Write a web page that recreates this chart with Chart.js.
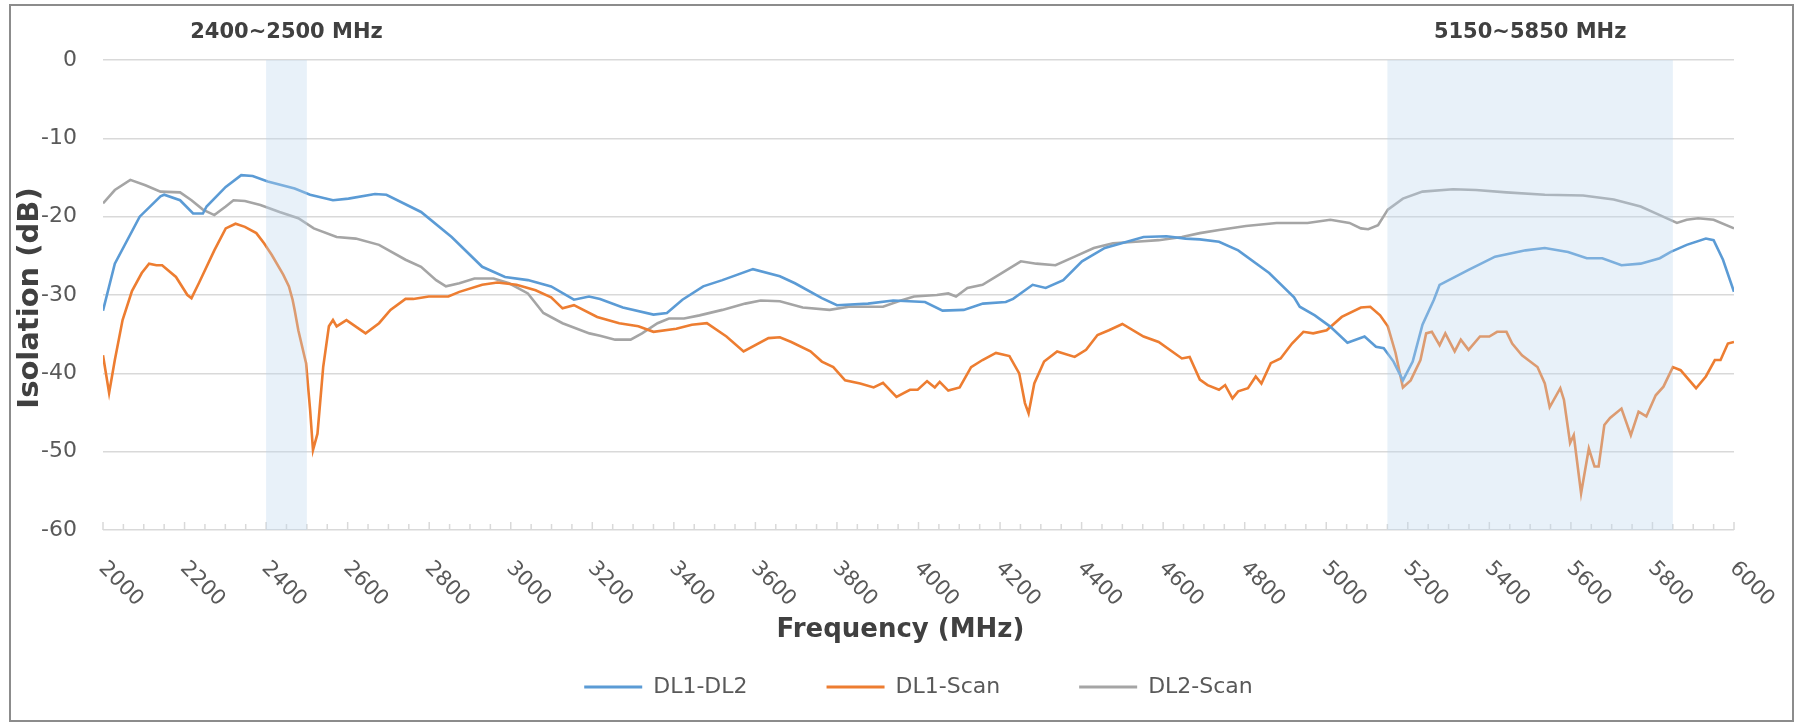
<!DOCTYPE html>
<html><head><meta charset="utf-8">
<script src="https://cdn.jsdelivr.net/npm/chart.js@4.4.1/dist/chart.umd.min.js"></script>
<style>html,body{margin:0;padding:0;background:#fff;}canvas{display:block;}</style>
</head><body>
<canvas id="c" width="1801" height="722"></canvas>
<script>
// ---- data ----
const seriesNames = ['DL1-DL2', 'DL1-Scan', 'DL2-Scan'];

const dl1Dl2Freq = [2000,2029,2090,2141,2150,2189,2221,2245,2254,2301,2339,2367,2404,2470,2508,2564,2602,2667,2695,2780,2855,2930,2986,3042,3099,3155,3192,3219,3275,3350,3383,3421,3472,3519,3594,3660,3697,3763,3800,3876,3938,4016,4059,4111,4158,4214,4232,4280,4312,4355,4401,4457,4552,4608,4655,4690,4737,4784,4860,4921,4935,4972,5009,5052,5094,5122,5141,5165,5188,5212,5236,5264,5278,5349,5414,5489,5536,5593,5639,5677,5724,5771,5818,5845,5884,5931,5950,5973,6000];
const dl1Dl2Db = [-32,-26,-20,-17.4,-17.2,-17.9,-19.6,-19.6,-18.7,-16.2,-14.7,-14.8,-15.5,-16.4,-17.2,-17.9,-17.7,-17.1,-17.2,-19.4,-22.6,-26.4,-27.7,-28.1,-28.9,-30.6,-30.2,-30.5,-31.6,-32.5,-32.3,-30.6,-28.9,-28.1,-26.7,-27.6,-28.5,-30.4,-31.3,-31.1,-30.7,-30.9,-32.0,-31.9,-31.1,-30.9,-30.5,-28.7,-29.1,-28.1,-25.7,-24,-22.6,-22.5,-22.8,-22.9,-23.2,-24.3,-27.2,-30.3,-31.5,-32.6,-34,-36.1,-35.3,-36.6,-36.8,-38.5,-40.9,-38.5,-33.8,-30.6,-28.7,-26.8,-25.1,-24.3,-24,-24.5,-25.3,-25.3,-26.2,-26,-25.3,-24.5,-23.6,-22.8,-23,-25.5,-29.6];

const dl1ScanFreq = [2000,2015,2029,2048,2071,2095,2113,2131,2145,2179,2207,2217,2235,2273,2301,2325,2348,2376,2395,2414,2442,2456,2465,2470,2479,2498,2508,2515,2526,2540,2554,2564,2573,2597,2644,2677,2705,2742,2761,2799,2847,2874,2930,2967,3014,3061,3099,3127,3155,3212,3266,3313,3350,3406,3444,3481,3529,3571,3632,3660,3688,3735,3763,3791,3820,3857,3890,3913,3946,3979,3998,4021,4040,4052,4073,4101,4129,4157,4190,4223,4247,4261,4270,4284,4308,4340,4383,4411,4439,4467,4500,4552,4589,4646,4665,4690,4709,4737,4752,4770,4784,4808,4827,4841,4864,4888,4916,4944,4968,5001,5038,5085,5108,5132,5151,5170,5188,5207,5231,5245,5259,5278,5292,5315,5330,5349,5377,5400,5419,5442,5456,5480,5518,5536,5548,5574,5583,5598,5607,5625,5644,5658,5668,5682,5696,5724,5747,5766,5785,5808,5827,5850,5869,5907,5931,5953,5967,5985,6000];
const dl1ScanDb = [-37.7,-42.5,-38.3,-33.2,-29.5,-27.2,-26,-26.2,-26.2,-27.7,-30,-30.4,-28.5,-24.3,-21.5,-20.9,-21.3,-22.1,-23.4,-24.9,-27.4,-28.9,-30.6,-31.9,-34.5,-38.7,-44.7,-49.8,-47.7,-39.2,-34,-33.2,-34,-33.2,-34.9,-33.6,-31.9,-30.5,-30.5,-30.2,-30.2,-29.6,-28.7,-28.4,-28.7,-29.4,-30.3,-31.7,-31.3,-32.8,-33.6,-34,-34.7,-34.3,-33.8,-33.6,-35.3,-37.2,-35.5,-35.4,-36,-37.2,-38.5,-39.2,-40.9,-41.3,-41.8,-41.2,-43,-42.1,-42.1,-41,-41.8,-41.1,-42.2,-41.8,-39.2,-38.3,-37.4,-37.8,-40,-43.8,-45.1,-41.3,-38.5,-37.2,-37.9,-37,-35.1,-34.5,-33.7,-35.3,-36,-38.1,-37.9,-40.8,-41.5,-42.1,-41.5,-43.2,-42.3,-41.9,-40.4,-41.3,-38.7,-38.1,-36.2,-34.7,-34.9,-34.5,-32.8,-31.6,-31.5,-32.6,-34,-37.4,-41.8,-40.9,-38.3,-34.9,-34.7,-36.4,-34.9,-37.2,-35.7,-37,-35.3,-35.3,-34.7,-34.7,-36.2,-37.7,-39.2,-41.3,-44.3,-41.9,-43.4,-48.9,-47.9,-55.3,-49.6,-51.9,-51.9,-46.6,-45.7,-44.5,-47.9,-44.9,-45.5,-42.8,-41.7,-39.2,-39.6,-41.9,-40.4,-38.3,-38.3,-36.2,-36];

const dl2ScanFreq = [2000,2029,2067,2104,2141,2189,2217,2245,2273,2301,2320,2348,2386,2433,2479,2517,2573,2620,2677,2742,2780,2817,2841,2874,2911,2958,2996,3042,3080,3127,3193,3219,3256,3294,3322,3360,3388,3425,3463,3519,3575,3613,3660,3716,3782,3829,3913,3951,3989,4045,4073,4092,4120,4157,4204,4251,4289,4336,4383,4430,4477,4533,4589,4646,4690,4737,4803,4878,4954,5010,5057,5085,5103,5127,5151,5188,5236,5311,5367,5442,5536,5630,5705,5771,5818,5860,5884,5912,5950,6000];
const dl2ScanDb = [-18.3,-16.6,-15.3,-16,-16.8,-16.9,-17.9,-19.1,-19.8,-18.7,-17.9,-18,-18.5,-19.4,-20.2,-21.5,-22.6,-22.8,-23.6,-25.5,-26.4,-28.1,-28.9,-28.5,-27.9,-27.9,-28.5,-29.8,-32.3,-33.6,-34.9,-35.2,-35.7,-35.7,-34.9,-33.6,-33,-33,-32.6,-31.9,-31.1,-30.7,-30.8,-31.6,-31.9,-31.5,-31.5,-30.8,-30.2,-30,-29.8,-30.2,-29.1,-28.7,-27.2,-25.7,-26,-26.2,-25.1,-24,-23.4,-23.2,-23,-22.6,-22.1,-21.7,-21.2,-20.8,-20.8,-20.4,-20.8,-21.5,-21.6,-21.1,-19.1,-17.7,-16.8,-16.5,-16.6,-16.9,-17.2,-17.3,-17.8,-18.7,-19.8,-20.8,-20.4,-20.2,-20.4,-21.5];

const xTickLabels = [2000,2200,2400,2600,2800,3000,3200,3400,3600,3800,4000,4200,4400,4600,4800,5000,5200,5400,5600,5800,6000];
const xMinorStep = 50;
const yMin = -60, yMax = 0, yStep = 10;

const bandStarts = [2400, 5150];
const bandEnds = [2500, 5850];
const bandLabels = ['2400~2500 MHz', '5150~5850 MHz'];

const xTitle = 'Frequency (MHz)';
const yTitle = 'Isolation (dB)';

// ---- drawing ----
const FONT = '"DejaVu Sans", sans-serif';
const colors = ['#5B9BD5', '#ED7D31', '#A5A5A5'];
const toPts = (fs, vs) => fs.map((f, i) => ({ x: f, y: vs[i] }));

const decor = {
  id: 'decor',
  beforeDraw(chart) {
    const c = chart.ctx;
    c.save(); c.fillStyle = '#fff'; c.fillRect(0, 0, chart.width, chart.height); c.restore();
  },
  beforeDatasetsDraw(chart) {
    const { ctx, scales: { x, y } } = chart;
    const yb = y.getPixelForValue(yMin);
    ctx.save();
    ctx.strokeStyle = '#d9d9d9'; ctx.lineWidth = 1.5;
    for (let f = x.min; f <= x.max; f += xMinorStep) {
      const px = x.getPixelForValue(f);
      const len = xTickLabels.includes(f) ? 8 : 6;
      ctx.beginPath(); ctx.moveTo(px, yb); ctx.lineTo(px, yb - len); ctx.stroke();
    }
    ctx.restore();
  },
  afterDatasetsDraw(chart) {
    const { ctx, scales: { x, y } } = chart;
    const yt = y.getPixelForValue(yMax), yb = y.getPixelForValue(yMin);
    ctx.save();
    ctx.fillStyle = 'rgba(189,215,238,0.34)';
    bandStarts.forEach((s, i) => {
      const x0 = x.getPixelForValue(s), x1 = x.getPixelForValue(bandEnds[i]);
      ctx.fillRect(x0, yt, x1 - x0, yb - yt);
    });
    ctx.restore();
  },
  afterDraw(chart) {
    const { ctx, scales: { x, y } } = chart;
    const yb = y.getPixelForValue(yMin);
    ctx.save();
    // rotated x tick labels
    ctx.fillStyle = '#595959';
    ctx.font = '21px ' + FONT;
    ctx.textAlign = 'left'; ctx.textBaseline = 'alphabetic';
    xTickLabels.forEach(v => {
      const px = x.getPixelForValue(v);
      ctx.save();
      ctx.translate(px - 5, yb + 39);
      ctx.rotate(Math.PI / 4);
      ctx.fillText(String(v), 0, 0);
      ctx.restore();
    });
    // axis titles
    ctx.fillStyle = '#404040';
    ctx.textAlign = 'center'; ctx.textBaseline = 'middle';
    ctx.font = 'bold 26px ' + FONT;
    ctx.fillText(xTitle, chart.width / 2, yb + 100);
    ctx.save();
    ctx.translate(30, (chart.chartArea.top + chart.chartArea.bottom) / 2 + 3);
    ctx.rotate(-Math.PI / 2);
    ctx.font = 'bold 29px ' + FONT;
    ctx.fillText(yTitle, 0, 0);
    ctx.restore();
    // band labels
    ctx.font = 'bold 21px ' + FONT;
    bandStarts.forEach((s, i) => {
      const cx = (x.getPixelForValue(s) + x.getPixelForValue(bandEnds[i])) / 2;
      ctx.fillText(bandLabels[i], cx, chart.chartArea.top - 27);
    });
    // outer border
    ctx.strokeStyle = '#8c8c8c'; ctx.lineWidth = 2;
    ctx.strokeRect(10, 5, chart.width - 18, chart.height - 6);
    ctx.restore();
  }
};

new Chart(document.getElementById('c'), {
  type: 'line',
  data: {
    datasets: [
      { label: seriesNames[0], data: toPts(dl1Dl2Freq, dl1Dl2Db), borderColor: colors[0], backgroundColor: colors[0] },
      { label: seriesNames[1], data: toPts(dl1ScanFreq, dl1ScanDb), borderColor: colors[1], backgroundColor: colors[1] },
      { label: seriesNames[2], data: toPts(dl2ScanFreq, dl2ScanDb), borderColor: colors[2], backgroundColor: colors[2] }
    ]
  },
  options: {
    responsive: false,
    animation: false,
    devicePixelRatio: 1,
    layout: { padding: { left: 0, top: 60, right: 67, bottom: 14 } },
    elements: { point: { radius: 0 }, line: { tension: 0, borderWidth: 2.6, fill: false } },
    plugins: {
      tooltip: { enabled: false },
      legend: {
        position: 'bottom',
        fullSize: false,
        labels: {
          boxWidth: 58, boxHeight: 3, padding: 79,
          color: '#595959',
          font: { family: FONT, size: 22 },
          generateLabels: (chart) => Chart.defaults.plugins.legend.labels.generateLabels(chart).map(l => Object.assign(l, { lineWidth: 0 }))
        }
      }
    },
    scales: {
      x: {
        type: 'linear', min: 2000, max: 6000,
        ticks: { display: false, stepSize: 200 },
        grid: { display: false },
        border: { display: false },
        afterFit: (s) => { s.height = 67; }
      },
      y: {
        min: yMin, max: yMax,
        ticks: { stepSize: yStep, color: '#595959', font: { family: FONT, size: 22 }, padding: 26 },
        grid: { color: '#d9d9d9', lineWidth: 1.5, drawTicks: false },
        border: { display: false },
        afterFit: (s) => { s.width = 103; }
      }
    }
  },
  plugins: [decor]
});
</script>
</body></html>
